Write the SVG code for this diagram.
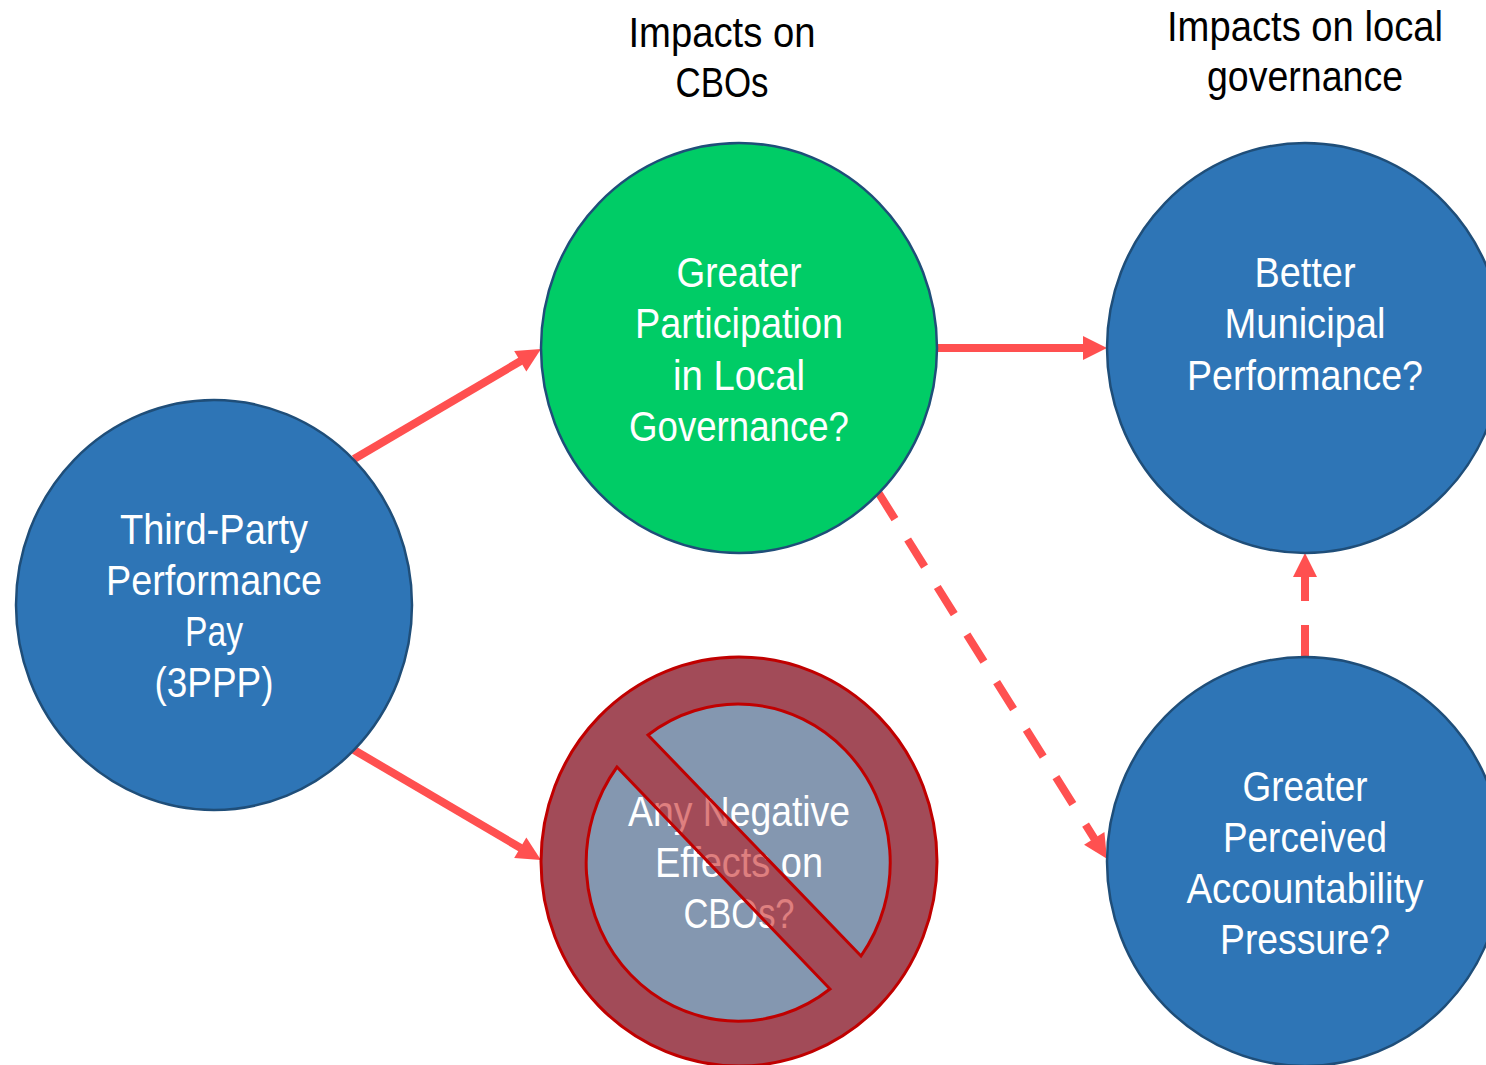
<svg xmlns="http://www.w3.org/2000/svg" width="1486" height="1065" viewBox="0 0 1486 1065">
<style>
text{font-family:"Liberation Sans",Arial,sans-serif;font-size:42px;text-anchor:middle}
.w{fill:#fff}.k{fill:#000}
.n{fill:#2E75B6;stroke:#1F4E79;stroke-width:2.500}
.a{fill:none;stroke:#FF5050;stroke-width:8;marker-end:url(#h)}
.d{stroke-dasharray:32 24}
</style>
<defs><marker id="h" markerUnits="userSpaceOnUse" markerWidth="24" markerHeight="24" refX="0.500" refY="12" orient="auto" overflow="visible"><path d="M0 0L24 12L0 24Z" fill="#FF5050"/></marker></defs>
<rect width="1486" height="1065" fill="#fff"/>
<g id="connectors">
<path class="a" d="M354 459L520.700 361"/>
<path class="a" d="M354 750L520.700 848"/>
<path class="a" d="M937 348L1083.500 348"/>
<path class="a d" d="M878 492L1094.500 838.800"/>
<path class="a d" d="M1305 657L1305 576.500"/>
</g>
<g id="node-3ppp"><ellipse class="n" cx="214" cy="605" rx="198" ry="205"/>
<text class="w" x="214" y="543.500" textLength="188" lengthAdjust="spacingAndGlyphs">Third-Party</text>
<text class="w" x="214" y="594.500" textLength="216" lengthAdjust="spacingAndGlyphs">Performance</text>
<text class="w" x="214" y="645.500" textLength="58" lengthAdjust="spacingAndGlyphs">Pay</text>
<text class="w" x="214" y="696.500" textLength="119" lengthAdjust="spacingAndGlyphs">(3PPP)</text></g>
<g id="node-participation"><ellipse class="n" cx="739" cy="348" rx="198" ry="205" style="fill:#00CC66"/>
<text class="w" x="739" y="286.500" textLength="125" lengthAdjust="spacingAndGlyphs">Greater</text>
<text class="w" x="739" y="337.500" textLength="208" lengthAdjust="spacingAndGlyphs">Participation</text>
<text class="w" x="739" y="389.500" textLength="132" lengthAdjust="spacingAndGlyphs">in Local</text>
<text class="w" x="739" y="440.500" textLength="220" lengthAdjust="spacingAndGlyphs">Governance?</text></g>
<g id="node-municipal"><ellipse class="n" cx="1305" cy="348" rx="198" ry="205"/>
<text class="w" x="1305" y="286.500" textLength="101" lengthAdjust="spacingAndGlyphs">Better</text>
<text class="w" x="1305" y="337.500" textLength="161" lengthAdjust="spacingAndGlyphs">Municipal</text>
<text class="w" x="1305" y="389.500" textLength="236" lengthAdjust="spacingAndGlyphs">Performance?</text></g>
<g id="node-accountability"><ellipse class="n" cx="1305" cy="861.500" rx="198" ry="204.500"/>
<text class="w" x="1305" y="800.500" textLength="125" lengthAdjust="spacingAndGlyphs">Greater</text>
<text class="w" x="1305" y="851.500" textLength="164" lengthAdjust="spacingAndGlyphs">Perceived</text>
<text class="w" x="1305" y="902.500" textLength="237" lengthAdjust="spacingAndGlyphs">Accountability</text>
<text class="w" x="1305" y="953.500" textLength="170" lengthAdjust="spacingAndGlyphs">Pressure?</text></g>
<g id="node-negative"><ellipse cx="739" cy="861.500" rx="198" ry="204.500" fill="#8497B0"/>
<text class="w" x="739" y="825.500" textLength="222" lengthAdjust="spacingAndGlyphs">Any Negative</text>
<text class="w" x="739" y="876.500" textLength="168" lengthAdjust="spacingAndGlyphs">Effects on</text>
<text class="w" x="739" y="927.500" textLength="111" lengthAdjust="spacingAndGlyphs">CBOs?</text>
<path fill="#C00000" fill-opacity=".5" fill-rule="evenodd" stroke="#C00000" stroke-width="3" d="M541 861.500A198 204.500 0 1 1 937 861.500A198 204.500 0 1 1 541 861.500ZM648 735A152 158.500 0 0 1 861 956ZM617 767L830 989A152 158.500 0 0 1 617 767Z"/></g>
<g id="label-cbos">
<text class="k" x="722" y="46.500" textLength="187" lengthAdjust="spacingAndGlyphs">Impacts on</text>
<text class="k" x="722" y="97" textLength="93" lengthAdjust="spacingAndGlyphs">CBOs</text></g>
<g id="label-governance">
<text class="k" x="1305" y="40.500" textLength="276" lengthAdjust="spacingAndGlyphs">Impacts on local</text>
<text class="k" x="1305" y="91" textLength="196" lengthAdjust="spacingAndGlyphs">governance</text></g>
</svg>
